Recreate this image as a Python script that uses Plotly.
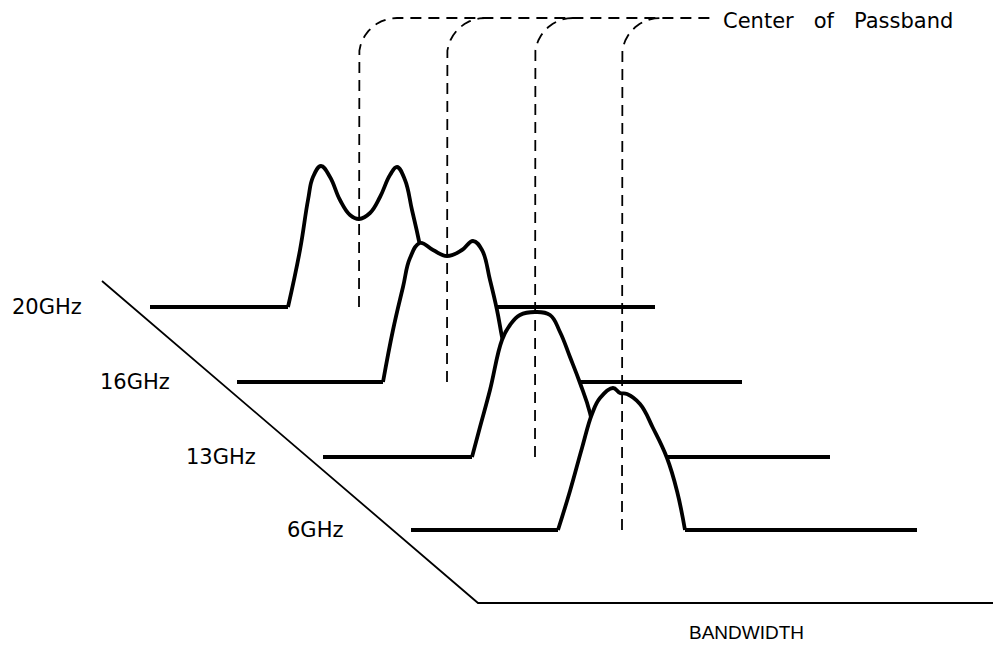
import numpy as np
import plotly.graph_objects as go

# ---------------- data ----------------
freq_labels = ["20GHz", "16GHz", "13GHz", "6GHz"]
center_x = [359, 447, 535, 622]          # centre of passband (bandwidth axis units)
baseline_y = [307, 382, 457, 530]        # depth offset of each frequency slice
left_start = [150, 237, 323, 411]
right_end = [655, 742, 830, 917]

# passband profiles: offset from centre and response height above baseline
p20_dx = [-71, -59, -51, -46, -38, -29, -19, -9, 0, 11, 21, 31, 38, 46, 53, 60, 72]
p20_h = [0, 57, 107, 130, 141, 130, 107, 92, 88, 94, 110, 132, 140, 127, 97, 66, 0]
p16_dx = [-64, -54, -44, -37, -27, -14, 0, 15, 26, 35, 43, 50, 55, 64]
p16_h = [0, 52, 95, 124, 139, 132, 126, 132, 141, 132, 102, 72, 45, 0]
p13_dx = [-63, -55, -45, -33, -25, -15, 0, 15, 25, 35, 45, 55, 63]
p13_h = [0, 30, 67, 117, 132, 142, 145, 142, 125, 100, 74, 44, 0]
p6_dx = [-64, -52, -40, -30, -22, -9, -2, 5, 18, 31, 45, 55, 63]
p6_h = [0, 39, 82, 116, 132, 142, 137, 136, 126, 102, 72, 39, 0]

profiles = [(p20_dx, p20_h), (p16_dx, p16_h), (p13_dx, p13_h), (p6_dx, p6_h)]

axis_x = [102, 478, 993]
axis_y = [281, 603, 603]

legend_text = "Center \u00a0 of \u00a0 Passband"
axis_title = "BANDWIDTH"

# ---------------- figure ----------------
fig = go.Figure()
LW = 3.8
SMOOTH = 1.2
BLACK = "#000000"

for i, (dx, h) in enumerate(profiles):
    cx, by = center_x[i], baseline_y[i]
    xs = [cx + d for d in dx]
    ys = [by - v for v in h]
    # opaque area under the curve (hides slices behind)
    fig.add_trace(go.Scatter(x=xs, y=ys, mode="lines", fill="toself",
                             fillcolor="white",
                             line=dict(width=0, color="white", shape="spline", smoothing=SMOOTH),
                             hoverinfo="skip", showlegend=False))
    # curve
    fig.add_trace(go.Scatter(x=xs, y=ys, mode="lines",
                             line=dict(width=LW, color=BLACK, shape="spline", smoothing=SMOOTH),
                             hoverinfo="skip", showlegend=False))
    # baselines
    fig.add_trace(go.Scatter(x=[left_start[i], xs[0]], y=[by, by], mode="lines",
                             line=dict(width=LW, color=BLACK), hoverinfo="skip", showlegend=False))
    fig.add_trace(go.Scatter(x=[xs[-1], right_end[i]], y=[by, by], mode="lines",
                             line=dict(width=LW, color=BLACK), hoverinfo="skip", showlegend=False))

# depth axis
fig.add_trace(go.Scatter(x=axis_x, y=axis_y, mode="lines",
                         line=dict(width=1.8, color=BLACK), hoverinfo="skip", showlegend=False))

# dashed centre-of-passband leaders
top_y = 18
R = 38
legend_end = 712
theta = np.linspace(np.pi, np.pi / 2, 12)
for i, cx in enumerate(center_x):
    ax = cx + R + R * np.cos(theta)
    ay = (top_y + R) - R * np.sin(theta)
    xs = [cx] + list(ax)
    ys = [baseline_y[i]] + list(ay)
    if i == 0:
        xs += [legend_end]
        ys += [top_y]
    fig.add_trace(go.Scatter(x=xs, y=ys, mode="lines",
                             line=dict(width=1.8, color=BLACK, dash="11px,7px"),
                             hoverinfo="skip", showlegend=False))

label_x = [47, 135, 221, 315]
for i, lab in enumerate(freq_labels):
    fig.add_annotation(x=label_x[i], y=baseline_y[i], text=lab, showarrow=False,
                       xanchor="center", yanchor="middle",
                       font=dict(family="DejaVu Sans", size=21, color=BLACK))

fig.add_annotation(x=721, y=21, text=legend_text, showarrow=False,
                   xanchor="left", yanchor="middle",
                   font=dict(family="DejaVu Sans", size=21, color=BLACK))
fig.add_annotation(x=746, y=632, text=axis_title, showarrow=False,
                   xanchor="center", yanchor="middle",
                   font=dict(family="Liberation Sans", size=19, color=BLACK))

fig.update_xaxes(range=[0, 995], visible=False, fixedrange=True)
fig.update_yaxes(range=[649, 0], visible=False, fixedrange=True)
fig.update_layout(width=995, height=649, margin=dict(l=0, r=0, t=0, b=0),
                  paper_bgcolor="white", plot_bgcolor="white", showlegend=False)

fig.write_html("out.html", config={"displayModeBar": False},
               post_script="document.body.style.margin='0';document.body.style.overflow='hidden';")
